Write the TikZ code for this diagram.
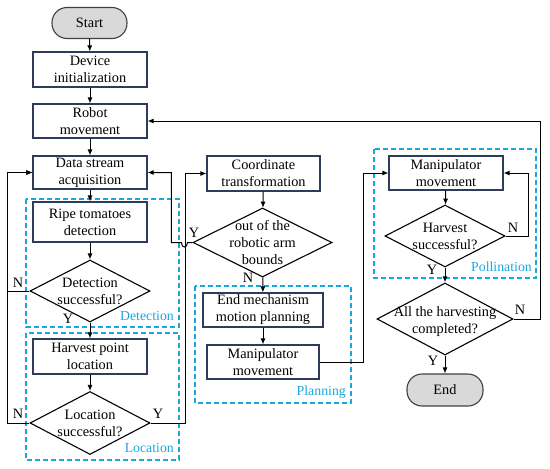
\documentclass[tikz,border=0pt]{standalone}
\usepackage{fontspec}
\setmainfont{Liberation Serif}
\usetikzlibrary{shapes.geometric,arrows.meta,calc}
\definecolor{boxc}{HTML}{2E3B5B}
\definecolor{dashc}{HTML}{1AA7DE}
\definecolor{termf}{HTML}{D9D9D9}
\definecolor{termd}{HTML}{404040}
\newcommand\myfs{\fontsize{14.3}{17}\selectfont}
\newcommand\mylfs{\fontsize{13.8}{16}\selectfont}
\begin{document}
\begin{tikzpicture}[x=1pt,y=-1pt,
  proc/.style={draw=boxc, line width=1.1pt, align=center, inner sep=0pt, font=\myfs},
  term/.style={draw=termd, fill=termf, line width=1.1pt, rounded corners=15pt, inner sep=0pt, font=\myfs},
  dia/.style={diamond, draw=black, line width=1.1pt, inner sep=0pt},
  dtext/.style={align=center, inner sep=0pt, font=\myfs},
  grp/.style={draw=dashc, line width=1.2pt, dash pattern=on 5pt off 3pt},
  glab/.style={text=dashc, font=\mylfs, anchor=east, inner sep=0pt},
  yn/.style={font=\myfs, inner sep=0pt},
  conn/.style={draw=black, line width=1pt},
  arr/.style={conn, -{Latex[length=6pt,width=5pt]}}]
\useasboundingbox (0,0) rectangle (550,469);
% groups
\draw[grp] (26,199) rectangle (179,327);
\draw[grp] (26,333) rectangle (179,460);
\draw[grp] (195,286) rectangle (351,403);
\draw[grp] (374,149) rectangle (536,278);
\node[glab] (gdet) at (174,316) {Detection};
\node[glab] (gloc) at (174,448) {Location};
\node[glab] (gpla) at (346,392) {Planning};
\node[glab] (gpol) at (532,267) {Pollination};
% nodes
\node[term, minimum width=75pt, minimum height=31pt] (start) at (89.5,23) {Start};
\node[proc, minimum width=114pt, minimum height=35pt] (dev) at (90,69.5) {Device\\initialization};
\node[proc, minimum width=114pt, minimum height=34pt] (robot) at (90,121) {Robot\\movement};
\node[proc, minimum width=114pt, minimum height=33pt] (data) at (90,172.5) {Data stream\\acquisition};
\node[proc, minimum width=114pt, minimum height=40pt] (ripe) at (90,222) {Ripe tomatoes\\detection};
\node[dia, minimum width=120pt, minimum height=62pt] (detd) at (90,291) {};
\node[dtext] (detdt) at (detd) {Detection\\successful?};
\node[proc, minimum width=114pt, minimum height=35pt] (harv) at (90,356.5) {Harvest point\\location};
\node[dia, minimum width=120pt, minimum height=63pt] (locd) at (90,423) {};
\node[dtext] (locdt) at (locd) {Location\\successful?};
\node[proc, minimum width=113pt, minimum height=35pt] (coord) at (263.5,173.5) {Coordinate\\transformation};
\node[dia, minimum width=139pt, minimum height=69pt] (oob) at (262.5,242.5) {};
\node[dtext] (oobt) at (oob) {out of the\\robotic arm\\bounds};
\node[proc, minimum width=120pt, minimum height=34pt] (endm) at (263,310) {End mechanism\\motion planning};
\node[proc, minimum width=112pt, minimum height=34pt] (man1) at (263,362) {Manipulator\\movement};
\node[proc, minimum width=114pt, minimum height=34pt] (man2) at (446,173) {Manipulator\\movement};
\node[dia, minimum width=120pt, minimum height=62pt] (hsd) at (445,236) {};
\node[dtext] (hsdt) at (hsd) {Harvest\\successful?};
\node[dia, minimum width=136pt, minimum height=72pt] (alld) at (445,319) {};
\node[dtext] (alldt) at ($(alld)+(0,3)$) {All the harvesting\\completed?};
\node[term, minimum width=76pt, minimum height=32pt] (endt) at (445,390) {End};
% connectors
\draw[arr] (start) -- (dev);
\draw[arr] (dev) -- (robot);
\draw[arr] (robot) -- (data);
\draw[arr] (data) -- (ripe);
\draw[arr] (ripe) -- (detd);
\draw[arr] (detd) -- (harv);
\draw[arr] (harv) -- (locd);
\draw[arr] (detd.west) -- ++(-22,0) |- (data.west);
\draw[arr] (locd.west) -- ++(-22,0) |- (data.west);
\draw[arr] (locd.east) -- ++(35,0) |- (coord.west);
\draw[arr] (coord) -- (oob);
\draw[arr] (oob.west) -- ++(-5,0) .. controls +(0,6) and +(0,6) .. ++(-6,0) -- ++(-10,0) |- (data.east);
\draw[arr] (oob) -- (endm);
\draw[arr] (endm) -- (man1);
\draw[arr] (man1.east) -- ++(44,0) |- (man2.west);
\draw[arr] (man2) -- (hsd);
\draw[arr] (hsd.east) -- ++(23,0) |- (man2.east);
\draw[arr] (hsd) -- (alld);
\draw[arr] (alld.east) -- ++(27,0) |- (robot.east);
\draw[arr] (alld) -- (endt);
% Y/N labels
\node[yn] (n1) at (18,283) {N};
\node[yn] (y1) at (68,319) {Y};
\node[yn] (n2) at (18,414) {N};
\node[yn] (y2) at (158,414) {Y};
\node[yn] (y3) at (194,233) {Y};
\node[yn] (n3) at (248,278) {N};
\node[yn] (n4) at (513,228) {N};
\node[yn] (y4) at (432,270) {Y};
\node[yn] (n5) at (520,310) {N};
\node[yn] (y5) at (433,361) {Y};
\end{tikzpicture}
\end{document}
